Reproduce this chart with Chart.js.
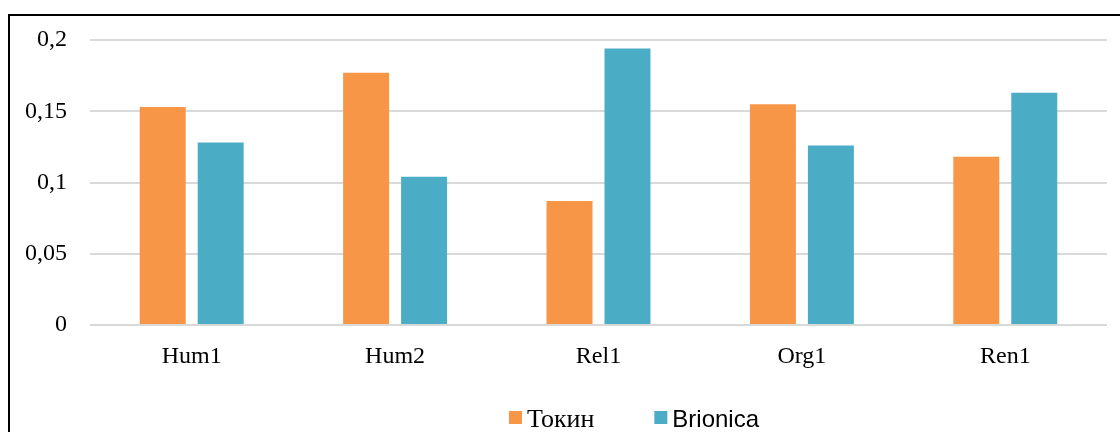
<!DOCTYPE html>
<html>
<head>
<meta charset="utf-8">
<script src="https://cdn.jsdelivr.net/npm/chart.js@4.4.1/dist/chart.umd.min.js"></script>
<style>
  html, body { margin: 0; padding: 0; background: #fff; }
  #wrap { position: relative; width: 1120px; height: 432px; overflow: hidden; }
</style>
</head>
<body>
<div id="wrap"><canvas id="c" width="1120" height="432"></canvas></div>
<script>
// Categories and series
const categories = ['Hum1', 'Hum2', 'Rel1', 'Org1', 'Ren1'];
const tokinValues = [0.153, 0.177, 0.087, 0.155, 0.118];
const brionicaValues = [0.128, 0.104, 0.194, 0.126, 0.163];
const seriesNames = ['Токин', 'Brionica'];
const yTickValues = [0, 0.05, 0.1, 0.15, 0.2];
const yTickLabels = ['0', '0,05', '0,1', '0,15', '0,2'];

const ORANGE = '#F79646';
const BLUE = '#4BACC6';
const SERIF = '"Liberation Serif", "Times New Roman", serif';
const SANS = '"Liberation Sans", Arial, sans-serif';

// Outer frame around the chart
const framePlugin = {
  id: 'frame',
  beforeDraw(chart) {
    const ctx = chart.ctx;
    ctx.save();
    ctx.fillStyle = '#fff';
    ctx.fillRect(0, 0, chart.width, chart.height);
    ctx.strokeStyle = '#000';
    ctx.lineWidth = 2;
    ctx.strokeRect(9, 15, chart.width + 20, chart.height + 20);
    ctx.restore();
  }
};

// Legend drawn below the axis, each entry with its own typeface
const legendPlugin = {
  id: 'customLegend',
  afterDraw(chart) {
    const ctx = chart.ctx;
    const fonts = ['26px ' + SERIF, '24px ' + SANS];
    const boxSize = 13;
    const boxGap = 5;
    const itemGap = 60;
    const baseline = 427;
    const centerX = 634;
    ctx.save();
    const widths = chart.data.datasets.map((ds, i) => {
      ctx.font = fonts[i];
      return boxSize + boxGap + ctx.measureText(ds.label).width;
    });
    const total = widths.reduce((a, b) => a + b, 0) + itemGap * (widths.length - 1);
    let x = centerX - total / 2;
    chart.data.datasets.forEach((ds, i) => {
      ctx.fillStyle = ds.backgroundColor;
      ctx.fillRect(x, baseline - 16, boxSize, boxSize);
      ctx.font = fonts[i];
      ctx.fillStyle = '#000';
      ctx.textBaseline = 'alphabetic';
      ctx.textAlign = 'left';
      ctx.fillText(ds.label, x + boxSize + boxGap, baseline);
      x += widths[i] + itemGap;
    });
    ctx.restore();
  }
};

new Chart(document.getElementById('c'), {
  type: 'bar',
  data: {
    labels: categories,
    datasets: [
      { label: seriesNames[0], data: tokinValues, backgroundColor: ORANGE },
      { label: seriesNames[1], data: brionicaValues, backgroundColor: BLUE }
    ]
  },
  options: {
    responsive: false,
    animation: false,
    devicePixelRatio: 1,
    layout: { padding: { top: 40, right: 13, bottom: 0, left: 0 } },
    datasets: {
      bar: { categoryPercentage: 0.57, barPercentage: 0.793 }
    },
    plugins: {
      legend: { display: false },
      tooltip: { enabled: false }
    },
    scales: {
      x: {
        grid: { display: false },
        border: { display: false },
        ticks: {
          color: '#000',
          font: { family: SERIF, size: 24 },
          padding: 9,
          maxRotation: 0
        },
        afterFit(scale) { scale.height = 107; }
      },
      y: {
        min: 0,
        max: 0.2,
        grid: { color: '#D9D9D9', lineWidth: 2, drawTicks: false },
        border: { display: false },
        afterBuildTicks(scale) {
          scale.ticks = yTickValues.map(v => ({ value: v }));
        },
        ticks: {
          color: '#000',
          font: { family: SERIF, size: 24 },
          padding: 23,
          callback(value) {
            const i = yTickValues.findIndex(v => Math.abs(v - value) < 1e-9);
            return i >= 0 ? yTickLabels[i] : '';
          }
        },
        afterFit(scale) { scale.width = 90; }
      }
    }
  },
  plugins: [framePlugin, legendPlugin]
});
</script>
</body>
</html>
